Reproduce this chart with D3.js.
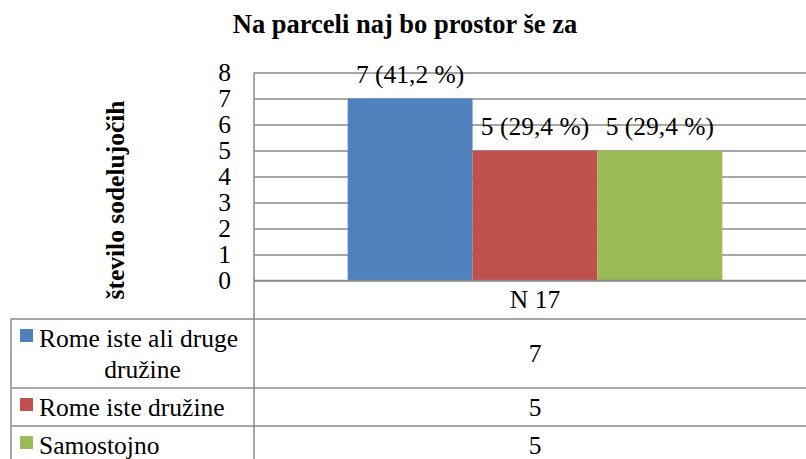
<!DOCTYPE html>
<html>
<head>
<meta charset="utf-8">
<script src="https://cdn.jsdelivr.net/npm/d3@7"></script>
<style>
  html, body { margin: 0; padding: 0; background: #fff; overflow: hidden; }
</style>
</head>
<body>
<div id="chart"></div>
<script>
// chart data
const chartTitle = 'Na parceli naj bo prostor še za'
const yTitle = 'število sodelujočih'
const categories = ['N 17']
const seriesNames = ['Rome iste ali druge družine', 'Rome iste družine', 'Samostojno']
const seriesValues = [7, 5, 5]
const seriesLabels = ['7 (41,2 %)', '5 (29,4 %)', '5 (29,4 %)']
const seriesColors = ['#4f81bd', '#c0504d', '#9bbb59']
const yTicks = [0, 1, 2, 3, 4, 5, 6, 7, 8]

const width = 806
const height = 459
const plot = { left: 254, right: 816, top: 72.5, bottom: 280.5 }
const gridColor = '#8a8a8a'
const serif = '"Liberation Serif"'
const fontSize = 25.5

const svg = d3.select('#chart').append('svg')
  .attr('width', width).attr('height', height)
  .attr('viewBox', [0, 0, width, height])

function label (sel, size) {
  return sel.style('font-family', serif).style('font-size', size + 'px').attr('fill', '#000')
}

// scales
const y = d3.scaleLinear().domain([0, 8]).range([plot.bottom, plot.top])
const x0 = d3.scaleBand().domain(categories).range([plot.left, plot.right])
// Excel style gap width 150%
const barW = x0.bandwidth() / (seriesNames.length + 1.5)
const x1 = d3.scaleBand().domain(seriesNames)
  .range([barW * 0.75, barW * 0.75 + barW * seriesNames.length])

// title
svg.append('text')
  .attr('x', 405).attr('y', 33)
  .attr('text-anchor', 'middle')
  .attr('font-weight', 'bold')
  .call(label, 26.5)
  .text(chartTitle)

// gridlines
svg.append('g')
  .attr('transform', 'translate(' + plot.left + ',0)')
  .call(d3.axisLeft(y).tickValues(yTicks).tickSize(-(plot.right - plot.left)).tickFormat(''))
  .call(g => g.select('.domain').remove())
  .call(g => g.selectAll('line').attr('stroke', gridColor).attr('stroke-width', 1.5))

// tick labels
svg.append('g')
  .attr('transform', 'translate(' + plot.left + ',0)')
  .call(d3.axisLeft(y).tickValues(yTicks).tickSize(0).tickPadding(23).tickFormat(d3.format('d')))
  .call(g => g.select('.domain').remove())
  .call(g => g.selectAll('text').call(label, fontSize))

// y title
svg.append('text')
  .attr('transform', 'translate(124,200) rotate(-90)')
  .attr('text-anchor', 'middle')
  .attr('font-weight', 'bold')
  .call(label, fontSize)
  .text(yTitle)

// bars
const bars = svg.append('g')
categories.forEach(cat => {
  seriesNames.forEach((s, i) => {
    bars.append('rect')
      .attr('x', x0(cat) + x1(s))
      .attr('y', y(seriesValues[i]))
      .attr('width', x1.bandwidth())
      .attr('height', y(0) - y(seriesValues[i]))
      .attr('fill', seriesColors[i])
    bars.append('text')
      .attr('x', x0(cat) + x1(s) + x1.bandwidth() / 2)
      .attr('y', y(seriesValues[i]) - 16)
      .attr('text-anchor', 'middle')
      .call(label, fontSize)
      .text(seriesLabels[i])
  })
})

// data table under the plot
const table = svg.append('g')
const keyLeft = 11
const textLeft = 39
const textRight = 250
const lineH = 31

// wrap legend names into the available width
function wrap (name) {
  const probe = svg.append('text').call(label, fontSize)
  const words = name.split(' ')
  const lines = []
  let cur = ''
  words.forEach(w => {
    const test = cur ? cur + ' ' + w : w
    probe.text(test)
    if (probe.node().getComputedTextLength() > textRight - textLeft && cur) {
      lines.push(cur); cur = w
    } else cur = test
  })
  lines.push(cur)
  probe.remove()
  return lines
}

let rowTop = plot.bottom
const headerH = 38.5
table.append('text')
  .attr('x', x0(categories[0]) + x0.bandwidth() / 2)
  .attr('y', rowTop + headerH / 2 + 8.5)
  .attr('text-anchor', 'middle')
  .call(label, fontSize)
  .text(categories[0])
rowTop += headerH
const hLines = [plot.bottom, rowTop]

seriesNames.forEach((s, i) => {
  const lines = wrap(s)
  const h = 38 + lineH * (lines.length - 1)
  const base = rowTop + h / 2 + 8.5 - lineH * (lines.length - 1) / 2
  lines.forEach((ln, j) => {
    const t = table.append('text')
      .attr('y', base + j * lineH)
      .call(label, fontSize)
      .text(ln)
    if (j === 0) t.attr('x', textLeft)
    else t.attr('x', (textLeft + 246) / 2).attr('text-anchor', 'middle')
  })
  table.append('rect')
    .attr('x', 20).attr('y', base - 17.5)
    .attr('width', 13).attr('height', 13)
    .attr('fill', seriesColors[i])
  table.append('text')
    .attr('x', x0(categories[0]) + x0.bandwidth() / 2)
    .attr('y', rowTop + h / 2 + 8.5)
    .attr('text-anchor', 'middle')
    .call(label, fontSize)
    .text(seriesValues[i])
  rowTop += h
  hLines.push(rowTop)
})

hLines.forEach((yy, i) => {
  table.append('line')
    .attr('x1', i === 0 ? plot.left : keyLeft).attr('x2', plot.right)
    .attr('y1', yy).attr('y2', yy)
    .attr('stroke', gridColor).attr('stroke-width', 1.5)
})
table.append('line')
  .attr('x1', plot.left).attr('x2', plot.left)
  .attr('y1', plot.top).attr('y2', rowTop)
  .attr('stroke', gridColor).attr('stroke-width', 1.5)
table.append('line')
  .attr('x1', keyLeft).attr('x2', keyLeft)
  .attr('y1', hLines[1]).attr('y2', rowTop)
  .attr('stroke', gridColor).attr('stroke-width', 1.5)
</script>
</body>
</html>
